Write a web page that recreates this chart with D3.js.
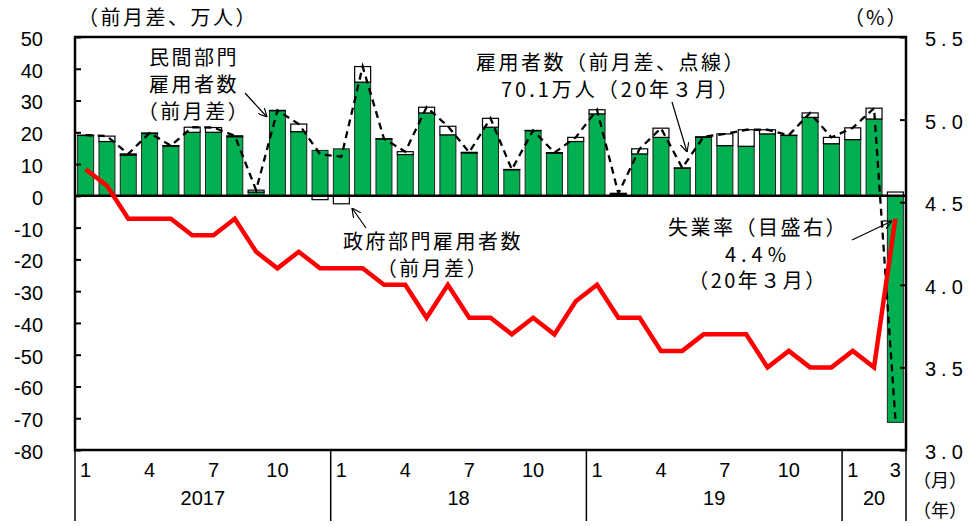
<!DOCTYPE html>
<html><head><meta charset="utf-8">
<script src="https://cdn.jsdelivr.net/npm/d3@7"></script>
<style>body{margin:0;background:#fff}svg{display:block}</style>
</head><body>
<svg id="c" width="969" height="526"></svg>
<script>
// ---- data ----
const months = d3.range(39).map(i => `${2017 + Math.floor(i/12)}-${(i%12)+1}`);
const privateChg = [19.0, 17.1, 12.8, 19.6, 15.6, 20.0, 20.0, 18.6, 1.2, 26.8, 20.2, 14.3,
                    14.8, 35.8, 17.9, 13.0, 26.1, 19.2, 13.5, 21.6, 8.2, 20.5, 13.4, 17.1,
                    25.8, 0.5, 13.2, 18.4, 8.7, 18.4, 15.8, 15.6, 19.5, 19.0, 24.7, 16.4,
                    17.7, 24.2, -71.3];
const govChg = [0.1, 1.7, 0.4, 0.2, 0.2, 1.6, 1.5, 0.3, 0.6, 0.1, 2.4, -1.2,
                -2.5, 4.9, 0.1, 0.9, 1.8, 2.7, 0.2, 2.8, 0.1, 0.1, 0.2, 1.3,
                1.3, 0.3, 1.6, 2.9, 0.1, 0.2, 3.7, 5.2, 1.3, 0.1, 1.4, 2.0,
                3.7, 3.4, 1.2];
const unempRate = [4.7, 4.6, 4.4, 4.4, 4.4, 4.3, 4.3, 4.4, 4.2, 4.1, 4.2, 4.1,
                   4.1, 4.1, 4.0, 4.0, 3.8, 4.0, 3.8, 3.8, 3.7, 3.8, 3.7, 3.9,
                   4.0, 3.8, 3.8, 3.6, 3.6, 3.7, 3.7, 3.7, 3.5, 3.6, 3.5, 3.5,
                   3.6, 3.5, 4.4];
const leftTicks = [-80, -70, -60, -50, -40, -30, -20, -10, 0, 10, 20, 30, 40, 50];
const rightTicks = [3.0, 3.5, 4.0, 4.5, 5.0, 5.5];
const monthTickIndex = [0, 3, 6, 9, 12, 15, 18, 21, 24, 27, 30, 33, 36, 38];
const monthTickText = ["1", "4", "7", "10", "1", "4", "7", "10", "1", "4", "7", "10", "1", "3"];
const yearStartIndex = [0, 12, 24, 36];
const yearLabels = ["2017", "18", "19", "20"];

// ---- layout ----
const L = 75, R = 906, T = 37, B = 450;
const svg = d3.select("#c");
const NUM = "'Liberation Sans', Arial, sans-serif";
const CJK = "'Noto Sans CJK JP', 'Noto Sans', sans-serif";

const x = d3.scaleBand().domain(d3.range(months.length)).range([L, R]).paddingInner(0.25).paddingOuter(0.125);
const step = x.step();
const yL = d3.scaleLinear().domain([-80, 50]).range([B, T]);
const yR = d3.scaleLinear().domain([3.0, 5.5]).range([B, T]);

const total = privateChg.map((p, i) => p + govChg[i]);

// bars: private (green)
svg.append("g").selectAll("rect").data(privateChg).join("rect")
  .attr("x", (d, i) => x(i)).attr("width", x.bandwidth())
  .attr("y", d => yL(Math.max(0, d))).attr("height", d => Math.abs(yL(d) - yL(0)))
  .attr("fill", "#00b050").attr("stroke", "#222").attr("stroke-width", 1);

// bars: government (white), stacked Excel-style
svg.append("g").selectAll("rect").data(govChg).join("rect")
  .attr("x", (d, i) => x(i)).attr("width", x.bandwidth())
  .attr("y", (d, i) => {
    const p = privateChg[i];
    if (d >= 0) { const base = p > 0 ? p : 0; return yL(base + d); }
    else { const base = p < 0 ? p : 0; return yL(base); }
  })
  .attr("height", d => Math.abs(yL(d) - yL(0)))
  .attr("fill", "#fff").attr("stroke", "#000").attr("stroke-width", 1.2);

// zero line
svg.append("line").attr("x1", L).attr("x2", R).attr("y1", yL(0)).attr("y2", yL(0))
  .attr("stroke", "#000").attr("stroke-width", 2.5);

// dashed total line
svg.append("path").datum(total)
  .attr("d", d3.line().x((d, i) => x(i) + x.bandwidth() / 2).y(d => yL(d)))
  .attr("fill", "none").attr("stroke", "#000").attr("stroke-width", 2.3).attr("stroke-dasharray", "7,5");

// unemployment line
svg.append("path").datum(unempRate)
  .attr("d", d3.line().x((d, i) => x(i) + x.bandwidth() / 2).y(d => yR(d)))
  .attr("fill", "none").attr("stroke", "#ff0000").attr("stroke-width", 4.5).attr("stroke-linejoin", "miter");

// plot border
svg.append("rect").attr("x", L).attr("y", T).attr("width", R - L).attr("height", B - T)
  .attr("fill", "none").attr("stroke", "#000").attr("stroke-width", 2.5);

// left axis
const axL = svg.append("g").attr("transform", `translate(${L},0)`)
  .call(d3.axisLeft(yL).tickValues(leftTicks).tickSize(-6).tickPadding(32).tickFormat(d => String(d)));
axL.select(".domain").remove();
axL.selectAll("line").attr("stroke-width", 2);
axL.selectAll("text").attr("font-family", NUM).attr("font-size", 20).attr("fill", "#000").attr("dy", "0.42em");

// right axis
const axR = svg.append("g").attr("transform", `translate(${R},0)`)
  .call(d3.axisRight(yR).tickValues(rightTicks).tickSize(-6).tickPadding(19).tickFormat(d3.format(".1f")));
axR.select(".domain").remove();
axR.selectAll("line").attr("stroke-width", 2);
axR.selectAll("text").attr("font-family", NUM).attr("font-size", 20).attr("fill", "#000")
  .attr("letter-spacing", "5px").attr("dy", "0.42em");

// bottom category axis
const gB = svg.append("g");
const bounds = yearStartIndex.map(i => x(i) - step * x.paddingInner() / 2).concat([R]);
gB.selectAll("line.sep").data(bounds).join("line").attr("class", "sep")
  .attr("x1", d => d).attr("x2", d => d).attr("y1", B).attr("y2", 521)
  .attr("stroke", "#000").attr("stroke-width", 1.5);
gB.selectAll("text.m").data(monthTickIndex).join("text").attr("class", "m")
  .attr("x", (d, k) => x(d) + x.bandwidth() / 2).attr("y", 477)
  .attr("text-anchor", "middle").attr("font-family", NUM).attr("font-size", 20)
  .text((d, k) => monthTickText[k]);
gB.selectAll("text.y").data(yearLabels).join("text").attr("class", "y")
  .attr("x", (d, k) => (bounds[k] + bounds[k + 1]) / 2).attr("y", 505)
  .attr("text-anchor", "middle").attr("font-family", NUM).attr("font-size", 20)
  .text(d => d);

// text helper
function txt(lines, xx, yy, opts = {}) {
  const t = svg.append("text").attr("x", xx).attr("y", yy)
    .attr("text-anchor", opts.anchor || "middle")
    .attr("font-family", opts.font || CJK).attr("font-size", opts.size || 20)
    .attr("letter-spacing", (opts.ls != null ? opts.ls : 2.5) + "px")
    .attr("fill", "#000");
  const lh = opts.lh || 27;
  (Array.isArray(lines) ? lines : [lines]).forEach((ln, k) => {
    const s = typeof ln === "string" ? ln : ln[0];
    const o = typeof ln === "string" ? {} : ln[1];
    const ts = t.append("tspan").attr("x", xx + (o.dx || 0)).attr("y", yy + k * lh).text(s);
    if (o.ls != null) ts.attr("letter-spacing", o.ls + "px");
  });
  return t;
}
txt("（前月差、万人）", 78, 25, {anchor: "start", ls: 2.5});
txt("（%）", 844, 25, {anchor: "start", ls: 2});
txt("（月）", 940, 487, {size: 18, ls: 0});
txt("（年）", 940, 517, {size: 18, ls: 0});

// annotations
txt(["民間部門", "雇用者数", "（前月差）"], 194, 65);
txt(["政府部門雇用者数", "（前月差）"], 433, 249);
txt(["雇用者数（前月差、点線）", ["70.1万人（20年３月）", {dx: 10, ls: 3}]], 611, 70);
txt(["失業率（目盛右）", ["4.4%", {ls: 5}], "（20年３月）"], 758, 235, {lh: 26.5});

// arrows
const defs = svg.append("defs");
defs.append("marker").attr("id", "ah").attr("viewBox", "0 0 10 10").attr("refX", 10).attr("refY", 5)
  .attr("markerWidth", 9).attr("markerHeight", 9).attr("orient", "auto").attr("markerUnits", "userSpaceOnUse")
  .append("path").attr("d", "M0,0 L10,5 L0,10").attr("fill", "none").attr("stroke", "#000").attr("stroke-width", 1.3);
const arrows = [
  [245, 93, 267, 117],
  [366, 228, 352, 208],
  [672, 102, 687, 152],
  [852, 240, 892, 221]
];
svg.append("g").selectAll("line").data(arrows).join("line")
  .attr("x1", d => d[0]).attr("y1", d => d[1]).attr("x2", d => d[2]).attr("y2", d => d[3])
  .attr("stroke", "#000").attr("stroke-width", 1.2).attr("marker-end", "url(#ah)");
</script>
</body></html>
